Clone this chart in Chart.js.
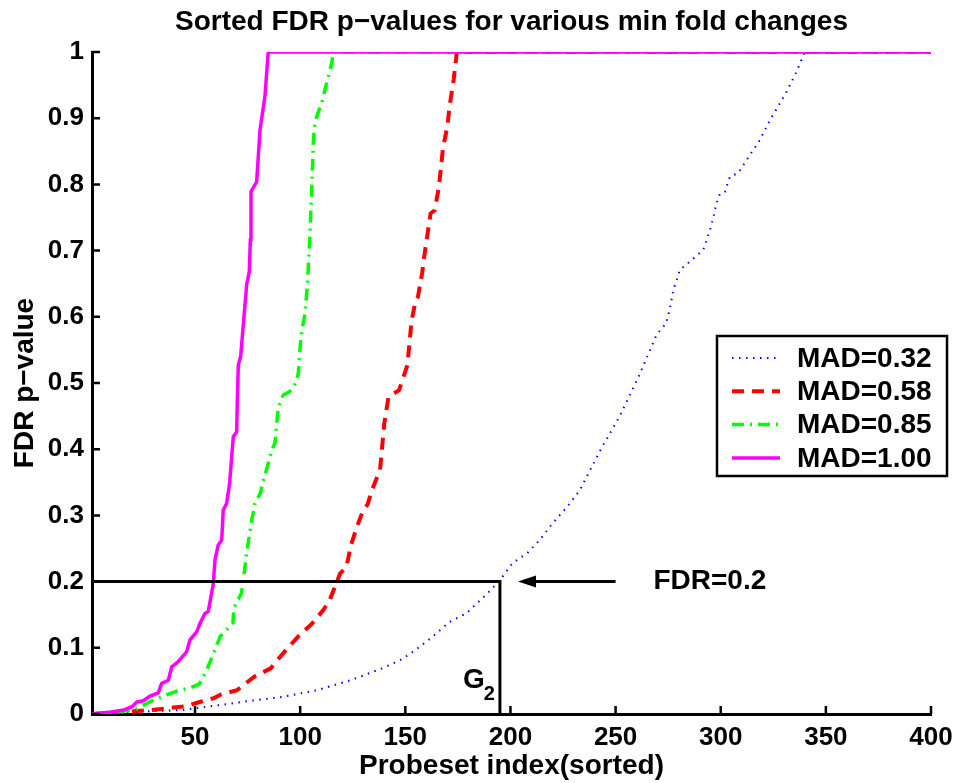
<!DOCTYPE html>
<html>
<head>
<meta charset="utf-8">
<script src="https://cdn.jsdelivr.net/npm/chart.js@4.4.1/dist/chart.umd.min.js"></script>
<style>
  html, body { margin: 0; padding: 0; background: #fff; }
</style>
</head>
<body>
<canvas id="chartContainer" width="955" height="783"></canvas>
<script>
// tick values
var xTickVals = [50, 100, 150, 200, 250, 300, 350, 400];
var yTickVals = [0, 0.1, 0.2, 0.3, 0.4, 0.5, 0.6, 0.7, 0.8, 0.9, 1];

// MAD=0.32 (blue dotted)
var mad032X = [1, 20, 44, 63, 79, 92, 108, 124, 139, 148, 155, 163, 171, 179, 189, 195, 201, 208, 214, 220, 227, 233, 243, 252, 261, 269.5, 274, 276, 277.4, 280.6, 287, 291.7, 293.3, 294.9, 296.4, 298, 299.6, 302, 304.4, 308.3, 314, 318.6, 323.4, 330.5, 335.3, 340, 400];
var mad032Y = [0, 0.003, 0.006, 0.014, 0.021, 0.026, 0.036, 0.051, 0.069, 0.082, 0.097, 0.117, 0.139, 0.152, 0.182, 0.202, 0.228, 0.243, 0.263, 0.288, 0.313, 0.338, 0.40, 0.45, 0.51, 0.573, 0.590, 0.615, 0.640, 0.671, 0.688, 0.701, 0.716, 0.731, 0.749, 0.771, 0.786, 0.789, 0.812, 0.817, 0.845, 0.867, 0.897, 0.935, 0.965, 1, 1];

// MAD=0.58 (red dashed)
var mad058X = [1, 21, 29, 38, 46, 51, 59, 62, 70, 76, 78, 86, 92, 99, 105.5, 111, 114, 116.5, 119, 122, 124, 127, 130, 132, 134, 138, 140, 142, 147, 151, 153, 155, 156, 158, 159, 162, 164, 166, 168, 170, 171, 173, 174.5, 400];
var mad058Y = [0, 0.004, 0.006, 0.009, 0.012, 0.017, 0.024, 0.029, 0.036, 0.051, 0.056, 0.069, 0.092, 0.117, 0.136, 0.157, 0.172, 0.192, 0.212, 0.222, 0.253, 0.283, 0.308, 0.316, 0.337, 0.369, 0.439, 0.479, 0.489, 0.527, 0.595, 0.625, 0.630, 0.666, 0.691, 0.756, 0.761, 0.797, 0.857, 0.887, 0.917, 0.958, 1, 1];

// MAD=0.85 (green dash-dot)
var mad085X = [1, 21, 29, 34, 41, 48, 52, 55.5, 59.5, 62, 65, 68, 68.5, 70, 72, 73, 74.5, 77, 78.5, 81, 82.5, 84, 86.5, 88, 89, 89.6, 92, 95, 98, 99.1, 100, 101, 102.3, 103.5, 104.5, 105.5, 106.3, 107.1, 108.7, 110.2, 111.8, 113.4, 115, 115.8, 400];
var mad085Y = [0, 0.006, 0.019, 0.026, 0.034, 0.040, 0.045, 0.066, 0.097, 0.117, 0.127, 0.137, 0.160, 0.170, 0.182, 0.202, 0.243, 0.293, 0.318, 0.333, 0.353, 0.369, 0.399, 0.409, 0.444, 0.464, 0.482, 0.487, 0.500, 0.514, 0.555, 0.583, 0.605, 0.650, 0.716, 0.792, 0.867, 0.895, 0.910, 0.922, 0.943, 0.963, 0.983, 1, 1];

// MAD=1.00 (magenta solid)
var mad100X = [1, 10, 16, 20, 22.3, 25.4, 28.6, 32.5, 34.1, 37.3, 38.9, 42, 46, 47.6, 50.8, 52.4, 54.7, 56.3, 58.7, 59.5, 61, 62.7, 63.4, 65, 66.4, 68.2, 69.8, 70.1, 70.6, 71.7, 74.6, 75.8, 76.3, 76.6, 79.3, 80.9, 82.2, 83.3, 84.8, 400];
var mad100Y = [0, 0.003, 0.006, 0.011, 0.018, 0.020, 0.027, 0.032, 0.046, 0.051, 0.071, 0.079, 0.094, 0.112, 0.124, 0.137, 0.152, 0.155, 0.197, 0.233, 0.255, 0.263, 0.308, 0.318, 0.347, 0.419, 0.426, 0.474, 0.527, 0.540, 0.650, 0.668, 0.716, 0.789, 0.804, 0.882, 0.910, 0.935, 1, 1];

// FDR cut-off guide lines
var cutoffX = [1, 195, 195];
var cutoffY = [0.2, 0.2, 0];

var seriesLabels = ['MAD=0.32', 'MAD=0.58', 'MAD=0.85', 'MAD=1.00'];

// annotation anchors (data units)
var fdrLevel = 0.2;
var arrowFromX = 250;
var arrowToX = 203.6;
var fdrTextX = 268;
var g2TextX = 177.4;
var g2TextY = 0.039;

var FONT = '"Liberation Sans", Arial, Helvetica, sans-serif';

function toPoints(xs, ys) {
  return xs.map(function(x, i) { return { x: x, y: ys[i] }; });
}

// 内向刻度线 + 注释
var axisDecor = {
  id: 'axisDecor',
  afterDraw: function(chart) {
    var ctx = chart.ctx;
    var xs = chart.scales.x, ys = chart.scales.y;
    var area = chart.chartArea;
    ctx.save();
    ctx.strokeStyle = '#000';
    ctx.lineWidth = 2.5;
    ctx.beginPath();
    yTickVals.forEach(function(v) {
      var py = ys.getPixelForValue(v);
      ctx.moveTo(area.left, py);
      ctx.lineTo(area.left + 8, py);
    });
    xTickVals.forEach(function(v) {
      var px = xs.getPixelForValue(v);
      ctx.moveTo(px, area.bottom);
      ctx.lineTo(px, area.bottom - 8);
    });
    ctx.stroke();

    // arrow
    var ay = ys.getPixelForValue(fdrLevel);
    var ax1 = xs.getPixelForValue(arrowFromX);
    var ax2 = xs.getPixelForValue(arrowToX);
    ctx.lineWidth = 3;
    ctx.beginPath();
    ctx.moveTo(ax1, ay);
    ctx.lineTo(ax2 + 14, ay);
    ctx.stroke();
    ctx.fillStyle = '#000';
    ctx.beginPath();
    ctx.moveTo(ax2, ay);
    ctx.lineTo(ax2 + 18, ay - 6);
    ctx.lineTo(ax2 + 18, ay + 6);
    ctx.closePath();
    ctx.fill();

    ctx.font = 'bold 28px ' + FONT;
    ctx.textBaseline = 'middle';
    ctx.textAlign = 'left';
    ctx.fillText('FDR=0.2', xs.getPixelForValue(fdrTextX), ay);

    ctx.textBaseline = 'alphabetic';
    var gx = xs.getPixelForValue(g2TextX);
    var gy = ys.getPixelForValue(g2TextY);
    ctx.fillText('G', gx, gy);
    var gw = ctx.measureText('G').width;
    ctx.font = 'bold 20px ' + FONT;
    ctx.fillText('2', gx + gw - 1, gy + 12);

    // legend
    var lx = 717, ly = 336, lw = 230, lh = 140;
    ctx.fillStyle = '#fff';
    ctx.fillRect(lx, ly, lw, lh);
    ctx.lineWidth = 2.5;
    ctx.strokeStyle = '#000';
    ctx.strokeRect(lx, ly, lw, lh);
    var rows = chart.data.datasets.filter(function(d) { return seriesLabels.indexOf(d.label) >= 0; });
    rows.sort(function(a, b) { return seriesLabels.indexOf(a.label) - seriesLabels.indexOf(b.label); });
    ctx.font = 'bold 28px ' + FONT;
    ctx.textBaseline = 'middle';
    rows.forEach(function(d, i) {
      var ry = ly + 22 + i * 33.3;
      ctx.save();
      ctx.strokeStyle = d.borderColor;
      ctx.lineWidth = d.borderWidth;
      ctx.setLineDash(d.borderDash || []);
      ctx.beginPath();
      ctx.moveTo(lx + 15, ry);
      ctx.lineTo(lx + 63, ry);
      ctx.stroke();
      ctx.restore();
      ctx.fillStyle = '#000';
      ctx.fillText(d.label, lx + 80, ry + 1);
    });
    ctx.restore();
  }
};

var ctx = document.getElementById('chartContainer').getContext('2d');
var chart = new Chart(ctx, {
  type: 'line',
  data: {
    datasets: [
      {
        label: seriesLabels[0],
        data: toPoints(mad032X, mad032Y),
        borderColor: '#0000ff',
        borderWidth: 2,
        borderDash: [1.5, 5.5],
        pointRadius: 0,
        order: 4
      },
      {
        label: seriesLabels[1],
        data: toPoints(mad058X, mad058Y),
        borderColor: '#ff0000',
        borderWidth: 4,
        borderDash: [12, 8],
        pointRadius: 0,
        order: 3
      },
      {
        label: seriesLabels[2],
        data: toPoints(mad085X, mad085Y),
        borderColor: '#00ff00',
        borderWidth: 3.5,
        borderDash: [12, 6, 2, 6],
        pointRadius: 0,
        order: 2
      },
      {
        label: seriesLabels[3],
        data: toPoints(mad100X, mad100Y),
        borderColor: '#ff00ff',
        borderWidth: 3.5,
        pointRadius: 0,
        order: 1
      },
      {
        label: 'cutoff',
        data: toPoints(cutoffX, cutoffY),
        borderColor: '#000',
        borderWidth: 3,
        pointRadius: 0,
        order: 0
      }
    ]
  },
  options: {
    responsive: false,
    animation: false,
    devicePixelRatio: 1,
    layout: { padding: { top: 0, right: 24, bottom: 0, left: 0 } },
    elements: { line: { tension: 0, borderCapStyle: 'butt' } },
    scales: {
      x: {
        type: 'linear',
        min: 1,
        max: 400,
        afterBuildTicks: function(scale) {
          scale.ticks = xTickVals.map(function(v) { return { value: v }; });
        },
        afterFit: function(scale) {
          scale.height = 69;
          scale.paddingLeft = 0;
          scale.paddingRight = 0;
        },
        grid: { display: false, drawTicks: false },
        border: { display: true, color: '#000', width: 3 },
        ticks: {
          color: '#000',
          font: { family: FONT, size: 26, weight: 'bold' },
          padding: 8,
          maxRotation: 0,
          autoSkip: false
        },
        title: {
          display: true,
          text: 'Probeset index(sorted)',
          color: '#000',
          font: { family: FONT, size: 28, weight: 'bold' },
          padding: { top: 0, bottom: 0 }
        }
      },
      y: {
        type: 'linear',
        min: 0,
        max: 1,
        afterBuildTicks: function(scale) {
          scale.ticks = yTickVals.map(function(v) { return { value: v }; });
        },
        afterFit: function(scale) {
          scale.width = 92;
          scale.paddingTop = 0;
          scale.paddingBottom = 0;
        },
        grid: { display: false, drawTicks: false },
        border: { display: true, color: '#000', width: 3 },
        ticks: {
          color: '#000',
          font: { family: FONT, size: 26, weight: 'bold' },
          padding: 8,
          callback: function(v) { return String(v); }
        },
        title: {
          display: true,
          text: 'FDR p\u2212value',
          color: '#000',
          font: { family: FONT, size: 28, weight: 'bold' },
          padding: { top: 8, bottom: 0 }
        }
      }
    },
    plugins: {
      legend: { display: false },
      tooltip: { enabled: false },
      title: {
        display: true,
        fullSize: false,
        text: 'Sorted FDR p\u2212values for various min fold changes',
        color: '#000',
        font: { family: FONT, size: 28, weight: 'bold' },
        padding: { top: 5, bottom: 13.4 }
      }
    }
  },
  plugins: [axisDecor]
});
</script>
</body>
</html>
